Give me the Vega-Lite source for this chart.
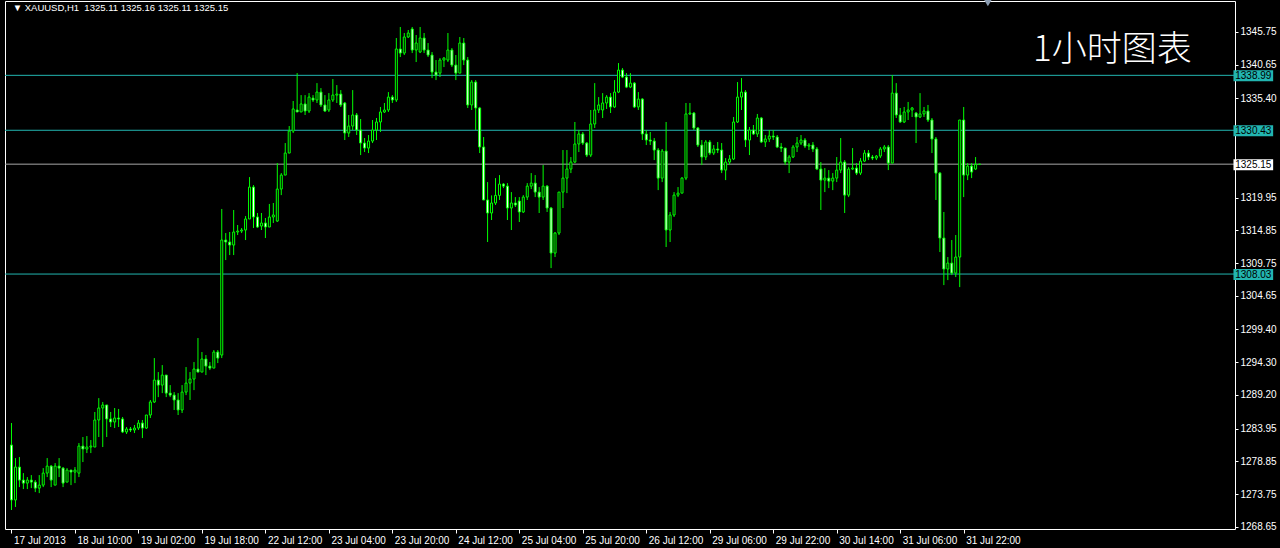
{
"$schema": "https://vega.github.io/schema/vega-lite/v6.json",
"width": 1230, "height": 528,
"autosize": {"type": "none"},
"padding": {"left": 5, "top": 1, "right": 45, "bottom": 19},
"background": "#000000",
"config": {
  "view": {"stroke": "#ffffff", "strokeWidth": 1},
  "axis": {"grid": false, "domain": false, "labelColor": "#ffffff", "tickColor": "#ffffff", "labelFont": "Liberation Sans", "labelFontSize": 10, "tickSize": 4}
},
"datasets": {
  "levels": [
    {"p": 1338.99, "kind": "level", "label": "1338.99"},
    {"p": 1330.43, "kind": "level", "label": "1330.43"},
    {"p": 1308.03, "kind": "level", "label": "1308.03"},
    {"p": 1325.15, "kind": "bid", "label": "1325.15"}
  ],
  "bars": [
{"i":0,"o":1281.39,"h":1284.82,"l":1271.27,"c":1272.83},
{"i":1,"o":1272.83,"h":1279.36,"l":1271.74,"c":1277.96},
{"i":2,"o":1277.96,"h":1279.52,"l":1274.84,"c":1275.93},
{"i":3,"o":1275.93,"h":1277.02,"l":1274.53,"c":1275.46},
{"i":4,"o":1275.46,"h":1276.40,"l":1274.53,"c":1275.93},
{"i":5,"o":1275.93,"h":1276.71,"l":1274.68,"c":1275.62},
{"i":6,"o":1275.62,"h":1275.93,"l":1274.06,"c":1274.68},
{"i":7,"o":1274.68,"h":1276.71,"l":1273.90,"c":1275.15},
{"i":8,"o":1275.15,"h":1277.80,"l":1274.84,"c":1277.02},
{"i":9,"o":1277.02,"h":1279.36,"l":1276.40,"c":1278.11},
{"i":10,"o":1278.11,"h":1278.27,"l":1274.84,"c":1275.93},
{"i":11,"o":1275.15,"h":1278.58,"l":1275.15,"c":1278.11},
{"i":12,"o":1278.11,"h":1279.36,"l":1276.40,"c":1277.80},
{"i":13,"o":1277.80,"h":1277.96,"l":1274.84,"c":1275.46},
{"i":14,"o":1275.62,"h":1277.80,"l":1275.62,"c":1277.49},
{"i":15,"o":1277.49,"h":1277.49,"l":1275.15,"c":1277.18},
{"i":16,"o":1277.18,"h":1277.96,"l":1275.46,"c":1277.49},
{"i":17,"o":1277.02,"h":1281.70,"l":1276.40,"c":1281.23},
{"i":18,"o":1281.23,"h":1282.64,"l":1278.74,"c":1280.77},
{"i":19,"o":1280.77,"h":1282.79,"l":1280.14,"c":1281.08},
{"i":20,"o":1281.08,"h":1282.17,"l":1280.14,"c":1281.23},
{"i":21,"o":1281.08,"h":1286.54,"l":1281.08,"c":1285.29},
{"i":22,"o":1285.29,"h":1288.70,"l":1282.64,"c":1287.16},
{"i":23,"o":1287.16,"h":1288.10,"l":1281.08,"c":1287.63},
{"i":24,"o":1287.63,"h":1287.63,"l":1282.64,"c":1285.45},
{"i":25,"o":1285.45,"h":1286.54,"l":1284.20,"c":1284.98},
{"i":26,"o":1284.98,"h":1287.16,"l":1284.04,"c":1285.60},
{"i":27,"o":1285.60,"h":1287.01,"l":1284.20,"c":1285.45},
{"i":28,"o":1285.45,"h":1285.76,"l":1283.26,"c":1283.42},
{"i":29,"o":1283.42,"h":1284.20,"l":1283.11,"c":1283.89},
{"i":30,"o":1283.89,"h":1284.20,"l":1283.42,"c":1283.73},
{"i":31,"o":1283.73,"h":1284.51,"l":1283.26,"c":1284.04},
{"i":32,"o":1284.04,"h":1285.29,"l":1283.73,"c":1284.82},
{"i":33,"o":1284.82,"h":1285.29,"l":1282.48,"c":1284.04},
{"i":34,"o":1284.04,"h":1286.07,"l":1283.89,"c":1286.07},
{"i":35,"o":1286.07,"h":1288.41,"l":1285.60,"c":1288.10},
{"i":36,"o":1288.10,"h":1294.94,"l":1287.94,"c":1291.51},
{"i":37,"o":1291.51,"h":1292.76,"l":1288.86,"c":1290.73},
{"i":38,"o":1290.73,"h":1293.85,"l":1289.48,"c":1292.29},
{"i":39,"o":1292.29,"h":1292.29,"l":1288.86,"c":1289.48},
{"i":40,"o":1289.48,"h":1290.73,"l":1288.86,"c":1289.17},
{"i":41,"o":1289.17,"h":1289.64,"l":1286.85,"c":1288.41},
{"i":42,"o":1288.41,"h":1289.48,"l":1286.07,"c":1286.85},
{"i":43,"o":1286.85,"h":1290.73,"l":1286.38,"c":1289.64},
{"i":44,"o":1289.64,"h":1293.54,"l":1289.17,"c":1291.04},
{"i":45,"o":1291.04,"h":1292.76,"l":1288.41,"c":1291.67},
{"i":46,"o":1291.67,"h":1294.32,"l":1289.95,"c":1293.23},
{"i":47,"o":1293.23,"h":1298.06,"l":1292.76,"c":1292.76},
{"i":48,"o":1292.76,"h":1295.88,"l":1292.76,"c":1294.79},
{"i":49,"o":1294.79,"h":1295.41,"l":1292.29,"c":1293.69},
{"i":50,"o":1293.69,"h":1294.32,"l":1293.07,"c":1293.38},
{"i":51,"o":1293.38,"h":1296.19,"l":1293.38,"c":1295.88},
{"i":52,"o":1295.88,"h":1296.19,"l":1294.16,"c":1294.94},
{"i":53,"o":1295.41,"h":1318.17,"l":1294.94,"c":1313.33},
{"i":54,"o":1313.33,"h":1314.42,"l":1310.21,"c":1313.02},
{"i":55,"o":1313.02,"h":1314.58,"l":1310.99,"c":1312.55},
{"i":56,"o":1312.55,"h":1318.01,"l":1310.99,"c":1314.58},
{"i":57,"o":1314.58,"h":1315.67,"l":1314.11,"c":1314.73},
{"i":58,"o":1314.73,"h":1315.20,"l":1314.42,"c":1314.89},
{"i":59,"o":1314.89,"h":1317.07,"l":1313.33,"c":1316.61},
{"i":60,"o":1316.61,"h":1323.14,"l":1316.61,"c":1321.58},
{"i":61,"o":1321.58,"h":1321.89,"l":1315.20,"c":1316.92},
{"i":62,"o":1316.92,"h":1317.54,"l":1315.20,"c":1315.36},
{"i":63,"o":1315.51,"h":1317.54,"l":1314.89,"c":1315.98},
{"i":64,"o":1315.98,"h":1316.76,"l":1313.64,"c":1315.36},
{"i":65,"o":1315.36,"h":1318.95,"l":1315.36,"c":1316.92},
{"i":66,"o":1316.92,"h":1319.10,"l":1315.98,"c":1317.23},
{"i":67,"o":1316.29,"h":1325.32,"l":1316.14,"c":1321.27},
{"i":68,"o":1321.27,"h":1323.76,"l":1320.33,"c":1323.45},
{"i":69,"o":1323.45,"h":1328.44,"l":1323.45,"c":1326.88},
{"i":70,"o":1326.88,"h":1331.09,"l":1326.88,"c":1330.31},
{"i":71,"o":1330.31,"h":1334.99,"l":1330.00,"c":1333.75},
{"i":72,"o":1333.59,"h":1339.34,"l":1333.28,"c":1333.28},
{"i":73,"o":1333.28,"h":1335.91,"l":1333.28,"c":1334.53},
{"i":74,"o":1334.53,"h":1335.91,"l":1332.81,"c":1333.43},
{"i":75,"o":1333.43,"h":1336.22,"l":1333.12,"c":1335.60},
{"i":76,"o":1335.44,"h":1335.91,"l":1334.84,"c":1335.15},
{"i":77,"o":1335.15,"h":1337.78,"l":1334.68,"c":1336.38},
{"i":78,"o":1336.38,"h":1337.00,"l":1334.06,"c":1334.37},
{"i":79,"o":1334.37,"h":1335.91,"l":1333.28,"c":1333.43},
{"i":80,"o":1333.59,"h":1336.22,"l":1333.28,"c":1335.15},
{"i":81,"o":1335.15,"h":1338.41,"l":1334.84,"c":1335.91},
{"i":82,"o":1335.91,"h":1337.47,"l":1334.68,"c":1336.07},
{"i":83,"o":1336.07,"h":1336.69,"l":1334.06,"c":1334.37},
{"i":84,"o":1334.68,"h":1334.84,"l":1328.91,"c":1330.00},
{"i":85,"o":1330.00,"h":1332.81,"l":1329.38,"c":1331.09},
{"i":86,"o":1331.09,"h":1336.69,"l":1330.47,"c":1332.81},
{"i":87,"o":1332.81,"h":1333.12,"l":1329.69,"c":1330.47},
{"i":88,"o":1330.47,"h":1332.19,"l":1326.57,"c":1328.44},
{"i":89,"o":1328.44,"h":1329.22,"l":1327.04,"c":1327.66},
{"i":90,"o":1327.66,"h":1329.69,"l":1326.88,"c":1328.75},
{"i":91,"o":1328.75,"h":1332.03,"l":1328.44,"c":1330.47},
{"i":92,"o":1330.47,"h":1332.34,"l":1328.91,"c":1331.72},
{"i":93,"o":1331.72,"h":1334.06,"l":1330.16,"c":1333.28},
{"i":94,"o":1333.28,"h":1334.68,"l":1333.12,"c":1333.59},
{"i":95,"o":1333.59,"h":1336.38,"l":1333.28,"c":1335.60},
{"i":96,"o":1335.60,"h":1335.91,"l":1334.68,"c":1335.15},
{"i":97,"o":1335.15,"h":1344.80,"l":1334.84,"c":1343.09},
{"i":98,"o":1343.09,"h":1346.52,"l":1341.84,"c":1342.46},
{"i":99,"o":1342.46,"h":1345.58,"l":1342.15,"c":1344.96},
{"i":100,"o":1344.96,"h":1346.05,"l":1344.80,"c":1345.58},
{"i":101,"o":1346.21,"h":1346.52,"l":1342.46,"c":1342.93},
{"i":102,"o":1342.93,"h":1345.27,"l":1341.06,"c":1344.02},
{"i":103,"o":1342.62,"h":1346.52,"l":1342.46,"c":1344.80},
{"i":104,"o":1344.80,"h":1345.58,"l":1342.46,"c":1342.93},
{"i":105,"o":1342.93,"h":1344.02,"l":1341.84,"c":1342.15},
{"i":106,"o":1342.15,"h":1342.62,"l":1338.56,"c":1339.50},
{"i":107,"o":1339.50,"h":1341.37,"l":1338.25,"c":1339.03},
{"i":108,"o":1339.34,"h":1341.68,"l":1338.72,"c":1341.37},
{"i":109,"o":1341.37,"h":1341.84,"l":1340.28,"c":1341.68},
{"i":110,"o":1341.37,"h":1345.58,"l":1341.06,"c":1342.93},
{"i":111,"o":1342.93,"h":1343.24,"l":1340.28,"c":1340.59},
{"i":112,"o":1340.59,"h":1342.15,"l":1338.25,"c":1339.34},
{"i":113,"o":1339.34,"h":1344.96,"l":1339.34,"c":1344.02},
{"i":114,"o":1344.02,"h":1344.80,"l":1340.59,"c":1341.37},
{"i":115,"o":1341.37,"h":1341.84,"l":1333.90,"c":1334.37},
{"i":116,"o":1334.37,"h":1338.25,"l":1333.59,"c":1337.94},
{"i":117,"o":1337.94,"h":1338.25,"l":1330.47,"c":1333.90},
{"i":118,"o":1333.90,"h":1334.06,"l":1326.88,"c":1327.82},
{"i":119,"o":1327.82,"h":1329.38,"l":1319.57,"c":1319.57},
{"i":120,"o":1319.57,"h":1322.36,"l":1313.02,"c":1317.54},
{"i":121,"o":1317.54,"h":1320.28,"l":1316.45,"c":1319.10},
{"i":122,"o":1319.10,"h":1322.98,"l":1318.79,"c":1320.28},
{"i":123,"o":1320.28,"h":1323.45,"l":1319.57,"c":1322.05},
{"i":124,"o":1322.05,"h":1322.20,"l":1321.42,"c":1321.73},
{"i":125,"o":1321.73,"h":1322.20,"l":1316.45,"c":1318.32},
{"i":126,"o":1318.32,"h":1320.80,"l":1314.89,"c":1319.10},
{"i":127,"o":1319.10,"h":1320.02,"l":1318.48,"c":1318.79},
{"i":128,"o":1319.41,"h":1320.02,"l":1316.14,"c":1317.70},
{"i":129,"o":1317.70,"h":1320.33,"l":1317.54,"c":1320.02},
{"i":130,"o":1320.02,"h":1322.20,"l":1319.57,"c":1321.73},
{"i":131,"o":1321.73,"h":1323.76,"l":1321.27,"c":1322.20},
{"i":132,"o":1322.20,"h":1323.45,"l":1320.02,"c":1320.80},
{"i":133,"o":1320.80,"h":1321.58,"l":1317.54,"c":1320.02},
{"i":134,"o":1320.02,"h":1325.01,"l":1319.57,"c":1321.73},
{"i":135,"o":1321.73,"h":1321.89,"l":1317.70,"c":1318.32},
{"i":136,"o":1318.32,"h":1318.48,"l":1308.96,"c":1311.30},
{"i":137,"o":1311.30,"h":1314.58,"l":1310.68,"c":1314.42},
{"i":138,"o":1314.42,"h":1320.80,"l":1314.11,"c":1320.80},
{"i":139,"o":1320.80,"h":1327.35,"l":1318.32,"c":1322.98},
{"i":140,"o":1322.98,"h":1327.35,"l":1320.64,"c":1324.39},
{"i":141,"o":1324.39,"h":1326.26,"l":1323.76,"c":1325.48},
{"i":142,"o":1325.48,"h":1331.72,"l":1325.32,"c":1328.29},
{"i":143,"o":1328.29,"h":1330.47,"l":1327.04,"c":1329.85},
{"i":144,"o":1329.85,"h":1330.16,"l":1328.13,"c":1328.44},
{"i":145,"o":1328.44,"h":1328.60,"l":1326.26,"c":1326.57},
{"i":146,"o":1326.57,"h":1333.59,"l":1326.26,"c":1331.41},
{"i":147,"o":1331.41,"h":1337.78,"l":1330.78,"c":1333.59},
{"i":148,"o":1333.59,"h":1335.60,"l":1333.12,"c":1334.37},
{"i":149,"o":1333.59,"h":1336.22,"l":1332.34,"c":1334.68},
{"i":150,"o":1334.68,"h":1335.91,"l":1333.75,"c":1335.60},
{"i":151,"o":1335.60,"h":1336.22,"l":1333.12,"c":1334.06},
{"i":152,"o":1334.06,"h":1338.25,"l":1333.90,"c":1336.38},
{"i":153,"o":1336.38,"h":1340.90,"l":1336.22,"c":1339.81},
{"i":154,"o":1339.81,"h":1340.12,"l":1338.56,"c":1338.72},
{"i":155,"o":1338.72,"h":1339.34,"l":1337.00,"c":1337.16},
{"i":156,"o":1337.16,"h":1339.34,"l":1337.00,"c":1337.78},
{"i":157,"o":1337.78,"h":1337.94,"l":1333.90,"c":1334.06},
{"i":158,"o":1334.06,"h":1336.38,"l":1333.59,"c":1335.29},
{"i":159,"o":1335.29,"h":1335.44,"l":1328.91,"c":1329.85},
{"i":160,"o":1329.85,"h":1330.47,"l":1328.13,"c":1328.91},
{"i":161,"o":1328.91,"h":1330.16,"l":1328.13,"c":1328.75},
{"i":162,"o":1328.75,"h":1329.22,"l":1325.79,"c":1327.35},
{"i":163,"o":1327.35,"h":1327.66,"l":1321.11,"c":1322.98},
{"i":164,"o":1322.98,"h":1327.51,"l":1322.36,"c":1327.19},
{"i":165,"o":1327.19,"h":1331.72,"l":1312.24,"c":1314.89},
{"i":166,"o":1314.89,"h":1317.70,"l":1313.02,"c":1317.23},
{"i":167,"o":1317.23,"h":1320.80,"l":1316.92,"c":1320.33},
{"i":168,"o":1320.33,"h":1321.58,"l":1320.02,"c":1320.64},
{"i":169,"o":1320.64,"h":1323.14,"l":1320.64,"c":1322.98},
{"i":170,"o":1322.98,"h":1334.68,"l":1322.67,"c":1332.97},
{"i":171,"o":1332.97,"h":1334.68,"l":1332.81,"c":1333.12},
{"i":172,"o":1333.12,"h":1333.28,"l":1330.47,"c":1330.78},
{"i":173,"o":1330.78,"h":1330.94,"l":1327.82,"c":1328.13},
{"i":174,"o":1328.13,"h":1328.91,"l":1325.01,"c":1326.26},
{"i":175,"o":1326.26,"h":1328.91,"l":1325.79,"c":1328.60},
{"i":176,"o":1328.60,"h":1328.91,"l":1326.57,"c":1326.88},
{"i":177,"o":1326.88,"h":1328.13,"l":1326.57,"c":1327.51},
{"i":178,"o":1327.51,"h":1328.60,"l":1326.88,"c":1327.35},
{"i":179,"o":1327.35,"h":1328.44,"l":1323.76,"c":1324.23},
{"i":180,"o":1324.23,"h":1326.10,"l":1322.67,"c":1325.48},
{"i":181,"o":1325.48,"h":1326.57,"l":1325.01,"c":1325.95},
{"i":182,"o":1325.95,"h":1332.50,"l":1325.79,"c":1331.72},
{"i":183,"o":1331.72,"h":1337.94,"l":1331.56,"c":1335.60},
{"i":184,"o":1335.60,"h":1338.56,"l":1333.59,"c":1336.38},
{"i":185,"o":1336.38,"h":1336.69,"l":1327.82,"c":1328.91},
{"i":186,"o":1328.91,"h":1330.94,"l":1326.57,"c":1330.47},
{"i":187,"o":1330.47,"h":1331.25,"l":1329.69,"c":1329.85},
{"i":188,"o":1329.85,"h":1332.97,"l":1329.38,"c":1332.34},
{"i":189,"o":1332.34,"h":1332.50,"l":1328.44,"c":1328.60},
{"i":190,"o":1328.60,"h":1329.69,"l":1327.82,"c":1329.07},
{"i":191,"o":1329.07,"h":1330.47,"l":1328.60,"c":1329.53},
{"i":192,"o":1329.53,"h":1330.47,"l":1328.91,"c":1329.38},
{"i":193,"o":1329.38,"h":1329.69,"l":1327.66,"c":1327.82},
{"i":194,"o":1327.82,"h":1328.44,"l":1327.04,"c":1327.66},
{"i":195,"o":1327.66,"h":1327.66,"l":1325.01,"c":1325.48},
{"i":196,"o":1325.48,"h":1326.57,"l":1323.76,"c":1326.26},
{"i":197,"o":1326.26,"h":1328.13,"l":1326.10,"c":1327.82},
{"i":198,"o":1327.82,"h":1329.38,"l":1327.04,"c":1328.44},
{"i":199,"o":1328.44,"h":1329.69,"l":1328.13,"c":1328.91},
{"i":200,"o":1328.91,"h":1329.22,"l":1327.66,"c":1327.97},
{"i":201,"o":1327.97,"h":1328.44,"l":1327.35,"c":1328.13},
{"i":202,"o":1328.13,"h":1328.60,"l":1327.04,"c":1327.51},
{"i":203,"o":1327.51,"h":1327.82,"l":1324.23,"c":1324.39},
{"i":204,"o":1324.39,"h":1325.48,"l":1318.01,"c":1322.67},
{"i":205,"o":1322.67,"h":1324.54,"l":1320.80,"c":1322.98},
{"i":206,"o":1322.98,"h":1324.23,"l":1321.42,"c":1322.51},
{"i":207,"o":1322.51,"h":1323.76,"l":1321.11,"c":1322.98},
{"i":208,"o":1322.98,"h":1326.26,"l":1322.36,"c":1324.23},
{"i":209,"o":1324.23,"h":1329.22,"l":1323.76,"c":1325.48},
{"i":210,"o":1325.48,"h":1325.79,"l":1317.54,"c":1320.33},
{"i":211,"o":1320.33,"h":1324.70,"l":1320.02,"c":1324.39},
{"i":212,"o":1324.39,"h":1327.66,"l":1324.23,"c":1324.54},
{"i":213,"o":1324.54,"h":1325.32,"l":1323.45,"c":1323.76},
{"i":214,"o":1323.76,"h":1326.10,"l":1323.45,"c":1325.63},
{"i":215,"o":1325.63,"h":1327.35,"l":1325.48,"c":1326.88},
{"i":216,"o":1326.88,"h":1327.35,"l":1325.79,"c":1326.26},
{"i":217,"o":1326.26,"h":1326.57,"l":1325.79,"c":1326.10},
{"i":218,"o":1326.10,"h":1326.57,"l":1325.79,"c":1326.41},
{"i":219,"o":1326.41,"h":1327.82,"l":1326.10,"c":1327.51},
{"i":220,"o":1327.51,"h":1328.13,"l":1327.04,"c":1327.82},
{"i":221,"o":1327.82,"h":1328.13,"l":1324.23,"c":1325.32},
{"i":222,"o":1325.32,"h":1339.03,"l":1325.32,"c":1336.22},
{"i":223,"o":1336.22,"h":1337.78,"l":1332.34,"c":1332.81},
{"i":224,"o":1332.81,"h":1333.90,"l":1331.56,"c":1331.72},
{"i":225,"o":1331.72,"h":1334.06,"l":1331.56,"c":1333.28},
{"i":226,"o":1333.28,"h":1334.84,"l":1332.03,"c":1333.59},
{"i":227,"o":1333.59,"h":1334.06,"l":1332.50,"c":1333.90},
{"i":228,"o":1333.12,"h":1333.28,"l":1328.44,"c":1332.50},
{"i":229,"o":1332.50,"h":1336.22,"l":1332.34,"c":1332.97},
{"i":230,"o":1332.97,"h":1334.06,"l":1332.50,"c":1333.43},
{"i":231,"o":1333.43,"h":1334.37,"l":1331.72,"c":1332.03},
{"i":232,"o":1332.03,"h":1332.34,"l":1326.88,"c":1329.07},
{"i":233,"o":1329.07,"h":1329.38,"l":1319.57,"c":1323.76},
{"i":234,"o":1323.76,"h":1323.92,"l":1311.46,"c":1313.64},
{"i":235,"o":1313.64,"h":1317.70,"l":1306.31,"c":1308.81},
{"i":236,"o":1308.81,"h":1310.68,"l":1307.09,"c":1309.74},
{"i":237,"o":1309.74,"h":1313.33,"l":1307.87,"c":1308.18},
{"i":238,"o":1308.18,"h":1314.11,"l":1307.56,"c":1310.68},
{"i":239,"o":1310.68,"h":1332.03,"l":1306.00,"c":1332.03},
{"i":240,"o":1332.03,"h":1334.06,"l":1320.02,"c":1323.45},
{"i":241,"o":1323.45,"h":1325.32,"l":1322.67,"c":1324.85},
{"i":242,"o":1324.85,"h":1325.32,"l":1322.98,"c":1323.92},
{"i":243,"o":1324.39,"h":1326.26,"l":1324.23,"c":1325.11},
{"i":244,"o":1325.11,"h":1325.16,"l":1325.11,"c":1325.15}
  ]
},
"layer": [
  {
    "data": {"name": "levels"},
    "mark": {"type": "rule", "strokeWidth": 1},
    "encoding": {
      "y": {"field": "p", "type": "quantitative", "title": null,
            "scale": {"domain": [1268.31, 1350.57], "nice": false, "zero": false},
            "axis": {"orient": "right", "values": [1345.75, 1340.65, 1335.40, 1319.95, 1314.85, 1309.75, 1304.65, 1299.40, 1294.30, 1289.20, 1283.95, 1278.85, 1273.75, 1268.65],
                     "format": ".2f", "tickSize": 3, "labelPadding": 2, "labelOverlap": false, "title": null}},
      "stroke": {"field": "kind", "type": "nominal", "scale": {"domain": ["level", "bid"], "range": ["#22b5b0", "#a8a8a8"]}, "legend": null}
    }
  },
  {
    "data": {"name": "bars"},
    "mark": {"type": "rule", "color": "#00ff00", "strokeWidth": 1},
    "encoding": {
      "x": {"field": "i", "type": "quantitative", "title": null,
            "scale": {"domain": [-0.375, 307.125], "nice": false, "zero": false},
            "axis": {"orient": "bottom", "values": [0,16,32,48,64,80,96,112,128,144,160,176,192,208,224,240],
                     "labelExpr": "['17 Jul 2013','18 Jul 10:00','19 Jul 02:00','19 Jul 18:00','22 Jul 12:00','23 Jul 04:00','23 Jul 20:00','24 Jul 12:00','25 Jul 04:00','25 Jul 20:00','26 Jul 12:00','29 Jul 06:00','29 Jul 22:00','30 Jul 14:00','31 Jul 06:00','31 Jul 22:00'][round(datum.value/16)]",
                     "labelAlign": "left", "labelBaseline": "top", "labelOffset": 2, "labelPadding": 2, "tickSize": 4, "labelOverlap": false, "labelFlush": false, "title": null}},
      "y": {"field": "l", "type": "quantitative", "title": null, "scale": {"domain": [1268.31, 1350.57], "nice": false, "zero": false}},
      "y2": {"field": "h"}
    }
  },
  {
    "data": {"name": "bars"},
    "mark": {"type": "bar", "size": 2, "stroke": "#00ff00", "strokeWidth": 1},
    "encoding": {
      "x": {"field": "i", "type": "quantitative", "title": null, "scale": {"domain": [-0.375, 307.125], "nice": false, "zero": false}},
      "y": {"field": "o", "type": "quantitative", "title": null, "scale": {"domain": [1268.31, 1350.57], "nice": false, "zero": false}},
      "y2": {"field": "c"},
      "fill": {"condition": {"test": "datum.c < datum.o", "value": "#ffffff"}, "value": "#000000"}
    }
  },
  {
    "data": {"name": "levels"},
    "mark": {"type": "rect", "yOffset": 6, "y2Offset": -5},
    "encoding": {
      "x": {"datum": 308, "type": "quantitative", "scale": {"domain": [-0.375, 307.125], "nice": false, "zero": false}},
      "x2": {"datum": 318},
      "y": {"field": "p", "type": "quantitative", "title": null, "scale": {"domain": [1268.31, 1350.57], "nice": false, "zero": false}},
      "y2": {"field": "p"},
      "fill": {"field": "kind", "type": "nominal", "scale": {"domain": ["level", "bid"], "range": ["#22b5b0", "#ffffff"]}, "legend": null}
    }
  },
  {
    "data": {"name": "levels"},
    "mark": {"type": "text", "align": "center", "baseline": "middle", "font": "Liberation Sans", "fontSize": 10, "fill": "#000000", "dy": 1},
    "encoding": {
      "x": {"datum": 313, "type": "quantitative", "scale": {"domain": [-0.375, 307.125], "nice": false, "zero": false}},
      "y": {"field": "p", "type": "quantitative", "title": null, "scale": {"domain": [1268.31, 1350.57], "nice": false, "zero": false}},
      "text": {"field": "label"}
    }
  },
  {
    "data": {"values": [{"t": "1小时图表"}]},
    "mark": {"type": "text", "align": "center", "baseline": "middle", "font": "Noto Sans CJK SC", "fontSize": 35, "fontWeight": 300, "fill": "#ffffff"},
    "encoding": {
      "x": {"datum": 277.5, "type": "quantitative", "scale": {"domain": [-0.375, 307.125], "nice": false, "zero": false}},
      "y": {"datum": 1342.9, "type": "quantitative", "scale": {"domain": [1268.31, 1350.57], "nice": false, "zero": false}},
      "text": {"field": "t"}
    }
  },
  {
    "data": {"values": [{"t": "▼ XAUUSD,H1\u00a0\u00a01325.11 1325.16 1325.11 1325.15"}]},
    "mark": {"type": "text", "align": "left", "baseline": "middle", "font": "Liberation Sans", "fontSize": 9.5, "fill": "#ffffff"},
    "encoding": {
      "x": {"datum": 0.3, "type": "quantitative", "scale": {"domain": [-0.375, 307.125], "nice": false, "zero": false}},
      "y": {"datum": 1349.45, "type": "quantitative", "scale": {"domain": [1268.31, 1350.57], "nice": false, "zero": false}},
      "text": {"field": "t"}
    }
  },
  {
    "data": {"values": [{"m": 1}]},
    "mark": {"type": "point", "shape": "triangle-down", "filled": true, "size": 70, "color": "#8a9bb0", "opacity": 1},
    "encoding": {
      "x": {"datum": 246.1, "type": "quantitative", "scale": {"domain": [-0.375, 307.125], "nice": false, "zero": false}},
      "y": {"datum": 1350.3, "type": "quantitative", "scale": {"domain": [1268.31, 1350.57], "nice": false, "zero": false}}
    }
  }
]
}
